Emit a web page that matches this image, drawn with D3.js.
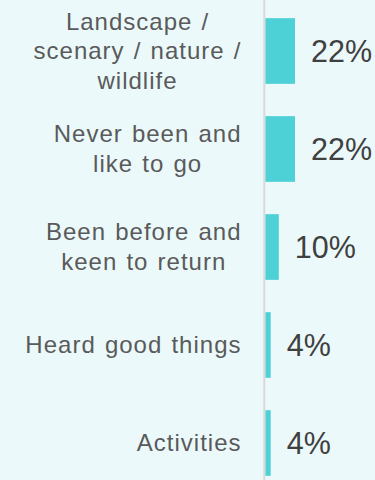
<!DOCTYPE html>
<html>
<head>
<meta charset="utf-8">
<script src="https://cdn.jsdelivr.net/npm/d3@7"></script>
<style>
  html, body { margin: 0; padding: 0; background: #ebf9fa; }
  svg { display: block; }
</style>
</head>
<body>
<div id="chart"></div>
<script>
// Reasons for wanting to visit (share of respondents, %)
const categories = [
  "Landscape /\nscenary / nature /\nwildlife",
  "Never been and\nlike to go",
  "Been before and\nkeen to return",
  "Heard good things",
  "Activities"
];
const values = [22, 22, 10, 4, 4];
const valueLabels = ["22%", "22%", "10%", "4%", "4%"];

const width = 375, height = 480;
const baseX = 265.3;

const svg = d3.select("#chart").append("svg")
  .attr("width", width).attr("height", height);

svg.append("rect").attr("width", width).attr("height", height).attr("fill", "#ebf9fa");

const y = d3.scaleBand()
  .domain(categories)
  .range([2, 492])
  .paddingInner(0.33)
  .paddingOuter(0.165);

const x = d3.scaleLinear().domain([0, 22]).range([baseX, baseX + 29.7]);

const rows = categories.map((c, i) => ({ cat: c, value: values[i], label: valueLabels[i] }));

// bars
svg.selectAll("rect.bar").data(rows).join("rect")
  .attr("class", "bar")
  .attr("x", x(0))
  .attr("y", d => y(d.cat))
  .attr("width", d => x(d.value) - x(0))
  .attr("height", y.bandwidth())
  .attr("fill", "#4dd0d6");

// vertical category axis line
svg.append("line")
  .attr("x1", baseX - 1).attr("x2", baseX - 1)
  .attr("y1", 0).attr("y2", height)
  .attr("stroke", "#d9d9d9").attr("stroke-width", 2);

// value labels
svg.selectAll("text.val").data(rows).join("text")
  .attr("class", "val")
  .attr("x", d => x(d.value) + 16)
  .attr("y", d => y(d.cat) + y.bandwidth() / 2)
  .attr("dy", "0.35em")
  .attr("font-family", "'Liberation Sans', Arial, sans-serif")
  .attr("font-size", 30.5)
  .attr("fill", "#404040")
  .text(d => d.label);

// category labels: block right-aligned, lines centred within block
const labelRight = 241.5;
const lineH = 29.5;
const catG = svg.selectAll("g.cat").data(rows).join("g").attr("class", "cat");
catG.each(function(d) {
  const g = d3.select(this);
  const lines = d.cat.split("\n");
  const cy = y(d.cat) + y.bandwidth() / 2;
  const texts = g.selectAll("text").data(lines).join("text")
    .attr("y", (l, i) => cy + 8 + (i - (lines.length - 1) / 2) * lineH)
    .attr("font-family", "'Liberation Sans', Arial, sans-serif")
    .attr("font-size", 24)
    .attr("letter-spacing", "1px")
    .attr("word-spacing", "1.5px")
    .attr("fill", "#5a5a5a")
    .attr("text-anchor", "middle")
    .text(l => l);
  let maxW = 0;
  texts.each(function() { maxW = Math.max(maxW, this.getBBox().width); });
  texts.attr("x", labelRight - maxW / 2);
});
</script>
</body>
</html>
